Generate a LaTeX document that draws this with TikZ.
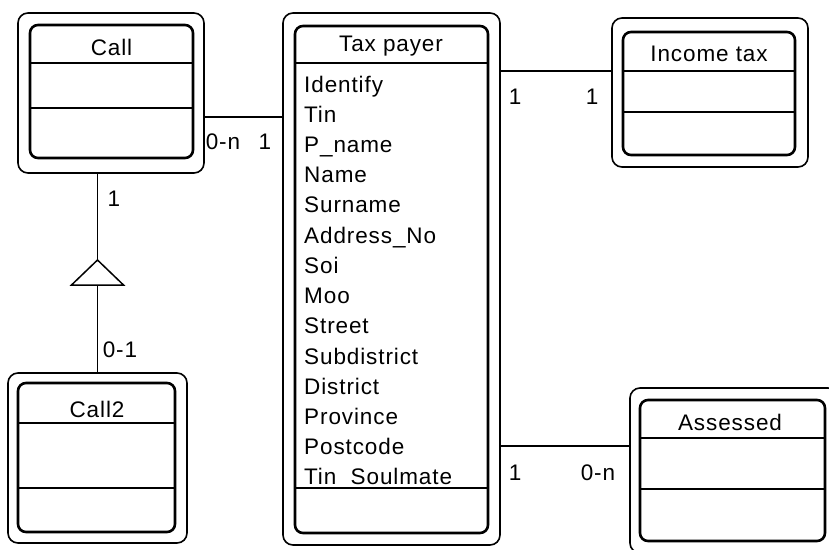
\documentclass[tikz,border=0pt]{standalone}
\usepackage{fontspec}
\setmainfont[LetterSpace=4]{Liberation Sans}
\usetikzlibrary{fit}
\begin{document}
\begin{tikzpicture}[x=1pt,y=-1pt,
  outerbox/.style={draw, line width=1.6pt, rounded corners=10pt, inner sep=0pt, outer sep=0pt},
  innerbox/.style={draw, line width=2.6pt, rounded corners=8pt, inner sep=0pt, outer sep=0pt},
  sepline/.style={line width=1.6pt},
  conn/.style={line width=1.5pt},
  txt/.style={font=\fontsize{22.5pt}{26pt}\selectfont, inner sep=0pt},
  attr/.style={txt, anchor=base west}]
\fill[white] (0,0) rectangle (829,549);
\useasboundingbox (0,0) rectangle (829,549);

% ---- Call ----
\node[outerbox, fit={(18,13) (204,173)}] (call) {};
\node[innerbox, fit={(30,25) (193,158)}] (call-in) {};
\draw[sepline] (call-in.west |- 0,63) -- (call-in.east |- 0,63);
\draw[sepline] (call-in.west |- 0,108) -- (call-in.east |- 0,108);
\node[txt] (call-t) at (111.5,47) {Call};

% ---- Call2 ----
\node[outerbox, fit={(8,373) (187,543)}] (call2) {};
\node[innerbox, fit={(18,383) (175,532)}] (call2-in) {};
\draw[sepline] (call2-in.west |- 0,423) -- (call2-in.east |- 0,423);
\draw[sepline] (call2-in.west |- 0,488) -- (call2-in.east |- 0,488);
\node[txt] (call2-t) at (97,409) {Call2};

% ---- Tax payer ----
\node[outerbox, fit={(283,13) (500,545)}] (tax) {};
\node[innerbox, fit={(295,26) (488,533)}] (tax-in) {};
\draw[sepline] (tax-in.west |- 0,63) -- (tax-in.east |- 0,63);
\draw[sepline] (tax-in.west |- 0,488) -- (tax-in.east |- 0,488);
\node[txt] (tax-t) at (391,46) {Tax payer};
\foreach \a [count=\i from 0] in {Identify, Tin, P\_name, Name, Surname, Address\_No,
    Soi, Moo, Street, Subdistrict, District, Province, Postcode, Tin\_Soulmate}
  \node[attr] (attr-\i) at (304,{92+30.23*\i}) {\a};

% ---- Income tax ----
\node[outerbox, fit={(612,18) (808,167)}] (inc) {};
\node[innerbox, fit={(623,32) (795,155)}] (inc-in) {};
\draw[sepline] (inc-in.west |- 0,71) -- (inc-in.east |- 0,71);
\draw[sepline] (inc-in.west |- 0,112) -- (inc-in.east |- 0,112);
\node[txt] (inc-t) at (709,54) {Income tax};

% ---- Assessed ----
\node[outerbox, fit={(630,388) (838,553)}] (ass) {};
\node[innerbox, fit={(640,400) (825,541)}] (ass-in) {};
\draw[sepline] (ass-in.west |- 0,438) -- (ass-in.east |- 0,438);
\draw[sepline] (ass-in.west |- 0,489) -- (ass-in.east |- 0,489);
\node[txt] (ass-t) at (730,422) {Assessed};

% ---- associations ----
\draw[conn] (call.east |- 0,117) -- (tax.west |- 0,117);
\node[txt] (m1) at (223,142) {0-n};
\node[txt] (m2) at (265,142) {1};

\draw[conn] (tax.east |- 0,71) -- (inc.west |- 0,71);
\node[txt] (m3) at (515,97) {1};
\node[txt] (m4) at (592,97) {1};

\draw[conn] (tax.east |- 0,446) -- (ass.west |- 0,446);
\node[txt] (m5) at (515,473) {1};
\node[txt] (m6) at (598,473) {0-n};

% ---- generalisation Call2 -> Call ----
\coordinate (gen) at (97.5,260);
\coordinate (genbase) at (97.5,285);
\draw[conn, line join=miter] (gen) -- (71.5,285) -- (123.5,285) -- cycle;
\draw[conn] (call.south -| gen) -- (gen);
\draw[conn] (genbase) -- (call2.north);
\node[txt] (m7) at (114,199) {1};
\node[txt] (m8) at (120,350) {0-1};
\end{tikzpicture}
\end{document}
